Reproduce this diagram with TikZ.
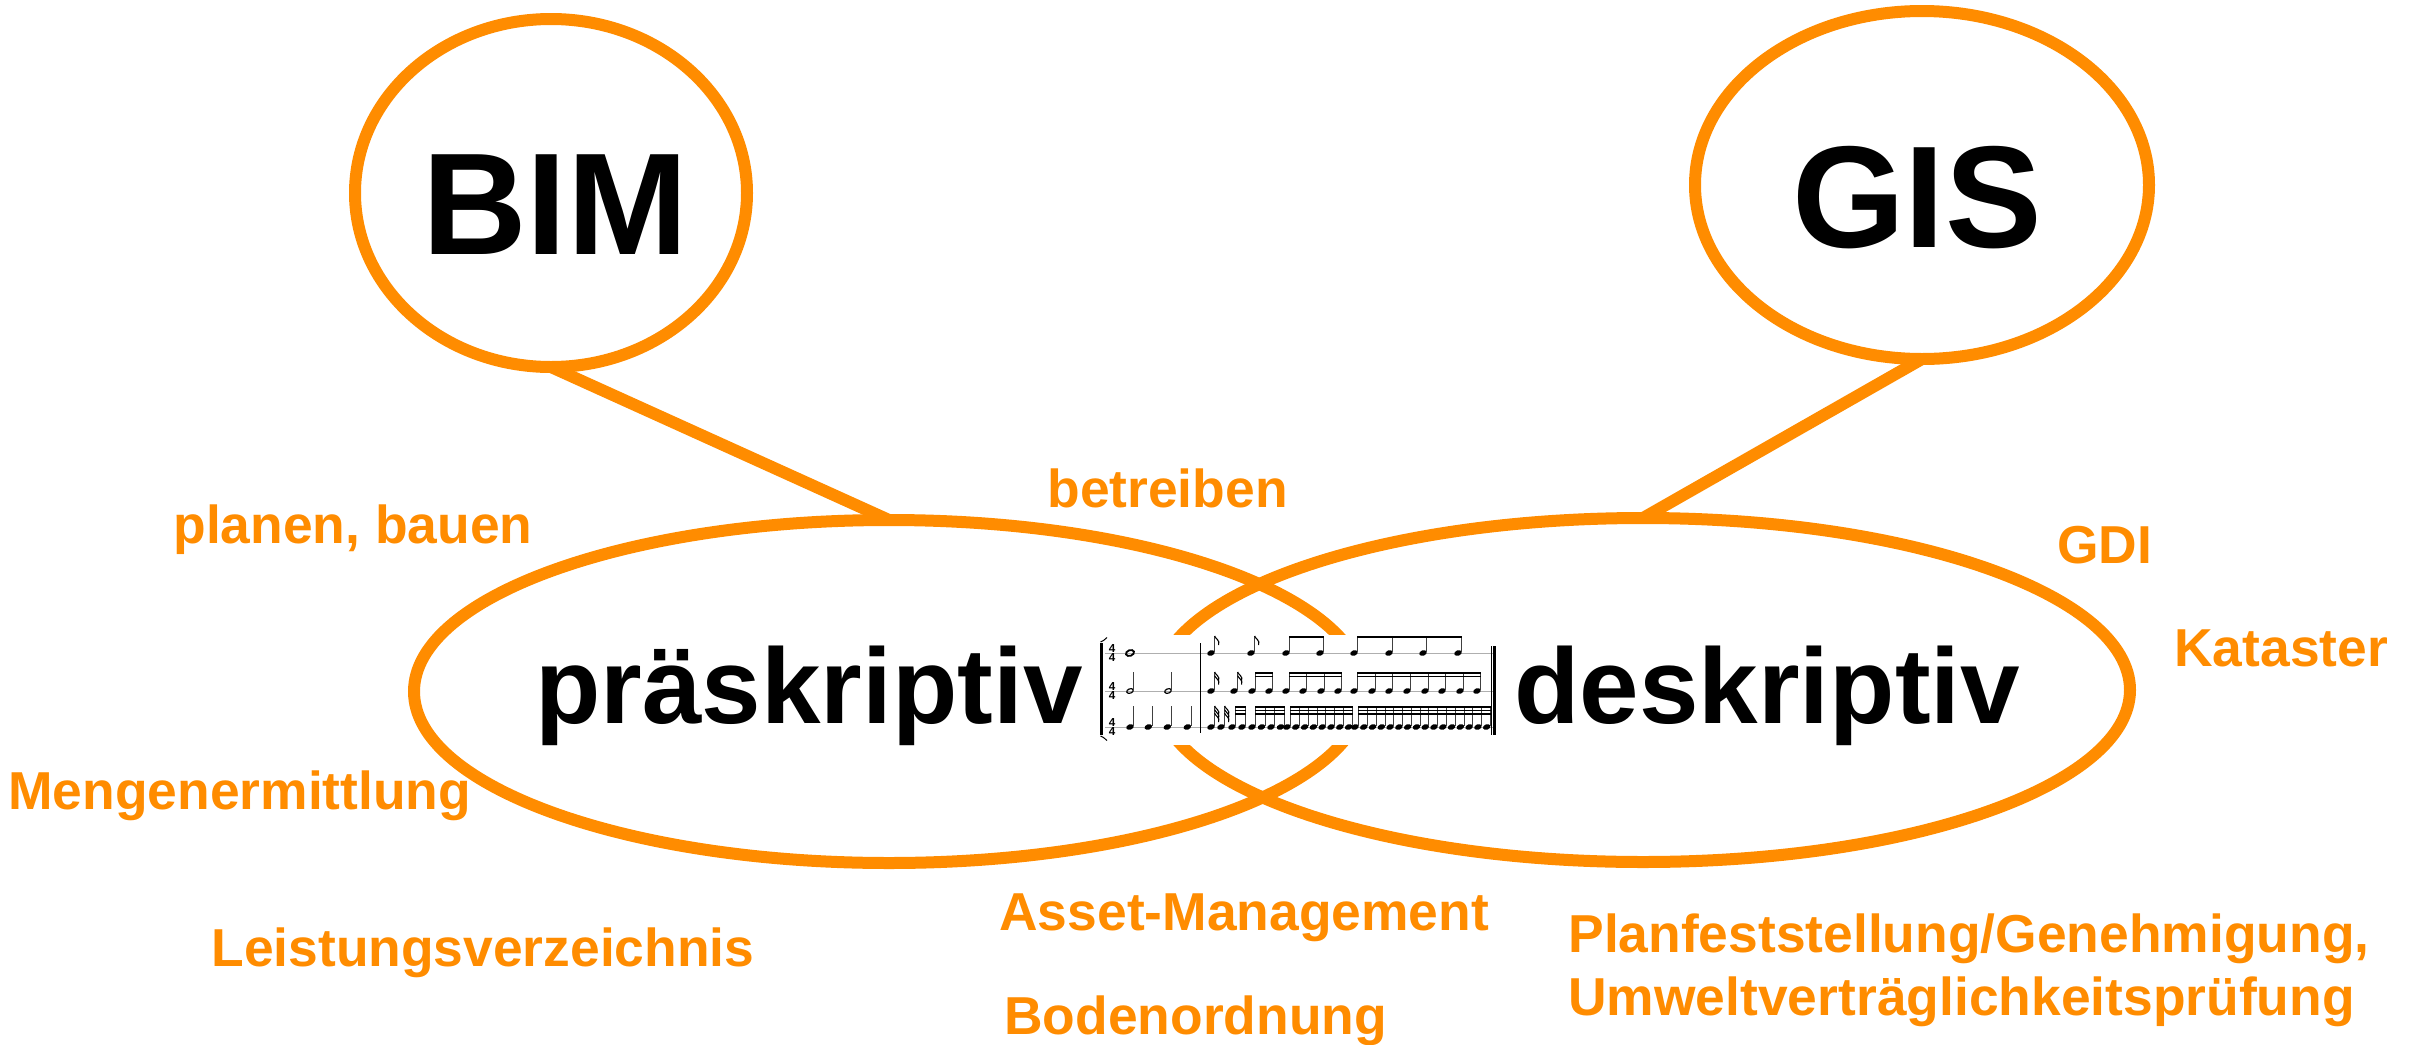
\documentclass[tikz,border=0pt]{standalone}
\usepackage{fontspec}
\setmainfont{Liberation Sans}
\usetikzlibrary{shapes.geometric}
\definecolor{accent}{RGB}{255,140,0}
\definecolor{staffgray}{RGB}{175,175,175}
\tikzset{
  ring/.style={ellipse, draw=accent, line width=6pt, inner sep=0pt, outer sep=0pt},
  link/.style={draw=accent, line width=6pt},
  term/.style={inner sep=0pt, anchor=base west, text=accent,
    font=\fontsize{26.7}{29.5}\selectfont\bfseries},
  keyword/.style={inner sep=0pt, anchor=base west,
    font=\fontsize{53.5}{60}\selectfont\bfseries},
  acronym/.style={inner sep=0pt, anchor=base,
    font=\fontsize{72.5}{80}\selectfont\bfseries},
  stemline/.style={line width=0.4pt, black!75},
  staffline/.style={line width=0.5pt, staffgray},
  barline/.style={line width=0.5pt, black},
  timesig/.style={inner sep=0pt, font=\fontsize{5.8}{5.8}\selectfont\bfseries},
}
% filled note head at (x,y)
\newcommand\nhead[2]{\fill[rotate around={20:(#1,#2)}] (#1,#2) ellipse [x radius=3.9, y radius=2.7];}
% open note head at (x,y)
\newcommand\ohead[2]{\draw[line width=0.6pt, rotate around={20:(#1,#2)}] (#1,#2) ellipse [x radius=3.4, y radius=2.2];}
% stem of a note at (x,y) reaching up to t
\newcommand\nstem[3]{\draw[stemline] (#1+3.6,#2-0.8) -- (#1+3.6,#3);}
% one flag hanging from a stem end
\newcommand\nflag[2]{\draw[line width=0.55pt] (#1,#2) .. controls (#1+1,#2+3) and (#1+5.5,#2+4) .. (#1+4,#2+9);}
% beams from note x1 to note x2 at top t, count n
\newcommand\nbeams[4]{\foreach \k in {1,...,#4} {\fill (#1+3.1,#3+3.6*\k-3.6) rectangle (#2+4.1,#3+3.6*\k-1.8);}}
\begin{document}
\begin{tikzpicture}[x=0.5pt,y=-0.5pt]
\useasboundingbox (0,0) rectangle (2417,1045);
\fill[white] (0,0) rectangle (2417,1045);

% the four rings
\node[ring, minimum width=196pt, minimum height=174pt] (bim) at (551,193) {};
\node[ring, minimum width=227pt, minimum height=174pt] (gis) at (1922,185) {};
\node[ring, minimum width=475pt, minimum height=171.5pt] (pre) at (889,691.5) {};
\node[ring, minimum width=487pt, minimum height=172pt] (des) at (1643,690) {};

% connectors
\draw[link] (bim.south) -- (pre.north);
\draw[link] (gis.south) -- (des.north);

% score panel in the overlap
\node[fill=white, inner sep=0pt, minimum width=202.5pt, minimum height=55pt] (score) at (1297.5,690) {};

% staff lines
\foreach \y in {653,691,727} {\draw[staffline] (1105,\y) -- (1495,\y);}
% bracket
\draw[line width=1.5pt] (1101.5,643) -- (1101.5,735);
\draw[line width=0.5pt] (1100.5,642) .. controls (1103,641) .. (1107,637.5);
\draw[line width=0.5pt] (1100.5,736) .. controls (1103,737) .. (1107,740.5);
% bar lines
\draw[barline] (1200.7,643) -- (1200.7,733);
\draw[barline] (1491.2,646) -- (1491.2,735);
\fill (1493.2,646) rectangle (1495.8,735);
% time signatures
\foreach \y [count=\s] in {653,691,727} {
  \node[timesig] (ts\s a) at (1112,\y-4.6) {4};
  \node[timesig] (ts\s b) at (1112,\y+4.6) {4};
}

% first bar
\draw[line width=0.9pt, rotate around={20:(1130,653)}] (1130,653) ellipse [x radius=4.2, y radius=2.8];
\foreach \x in {1130,1168} {\ohead{\x}{691} \nstem{\x}{691}{672}}
\foreach \x in {1130,1148.3,1167.3,1187.3} {\nhead{\x}{727} \nstem{\x}{727}{706}}

% second bar, upper staff: eighths
\foreach \x in {1211,1251} {\nhead{\x}{653} \nstem{\x}{653}{636} \nflag{\x+3.6}{636}}
\foreach \x in {1286,1320,1354,1389,1423,1458} {\nhead{\x}{653} \nstem{\x}{653}{636}}
\nbeams{1286}{1320}{636}{1}
\nbeams{1354}{1458}{636}{1}

% second bar, middle staff: sixteenths
\foreach \x in {1211,1234} {\nhead{\x}{691} \nstem{\x}{691}{672}
  \nflag{\x+3.6}{672} \nflag{\x+3.6}{675.6}}
\foreach \x in {1252,1269,1286,1303,1321,1338,1354,1372,1389,1407,1425,1442,1460,1477}
  {\nhead{\x}{691} \nstem{\x}{691}{672}}
\nbeams{1252}{1269}{672}{2}
\nbeams{1286}{1338}{672}{2}
\nbeams{1354}{1477}{672}{2}

% second bar, lower staff: thirty-seconds
\foreach \x in {1211,1221} {\nhead{\x}{727} \nstem{\x}{727}{706}
  \nflag{\x+3.6}{706} \nflag{\x+3.6}{709.6} \nflag{\x+3.6}{713.2}}
\foreach \x in {1232,1242,1252,1261.5,1271,1280.5} {\nhead{\x}{727} \nstem{\x}{727}{706}}
\foreach \i [evaluate=\i as \x using 1287+8.8*\i] in {0,...,7} {\nhead{\x}{727} \nstem{\x}{727}{706}}
\foreach \i [evaluate=\i as \x using 1355+8.78*\i] in {0,...,15} {\nhead{\x}{727} \nstem{\x}{727}{706}}
\nbeams{1232}{1242}{706}{3}
\nbeams{1252}{1280.5}{706}{3}
\nbeams{1287}{1348.6}{706}{3}
\nbeams{1355}{1486.7}{706}{3}

% headings
\node[acronym] (tbim) at (555,254) {BIM};
\node[acronym] (tgis) at (1917,247) {GIS};
\node[keyword] (tpre) at (535,723) {präskriptiv};
\node[keyword] (tdes) at (1514,723) {deskriptiv};

% application areas
\node[term] (plan) at (173,543) {planen, bauen};
\node[term] (betr) at (1047,507) {betreiben};
\node[term] (gdi) at (2057,563) {GDI};
\node[term] (kat) at (2174,666) {Kataster};
\node[term] (menge) at (8,809) {Mengenermittlung};
\node[term] (lv) at (211,966) {Leistungsverzeichnis};
\node[term] (asset) at (999,930) {Asset-Management};
\node[term] (boden) at (1004,1034) {Bodenordnung};
\node[term] (pf1) at (1568,952) {Planfeststellung/Genehmigung,};
\node[term] (pf2) at (1568,1015) {Umweltverträglichkeitsprüfung};
\end{tikzpicture}
\end{document}
